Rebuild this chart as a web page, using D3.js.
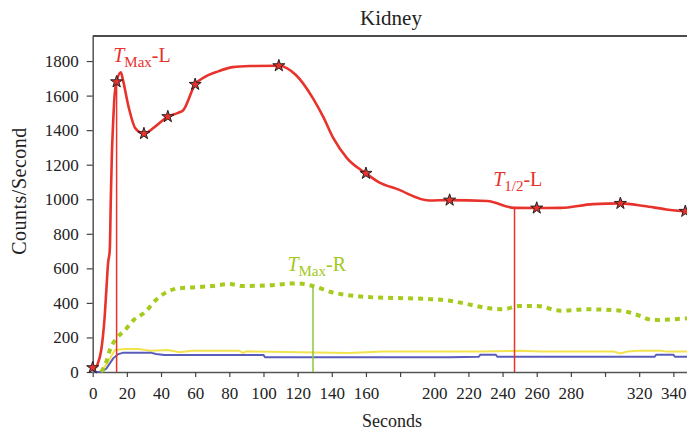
<!DOCTYPE html>
<html>
<head>
<meta charset="utf-8">
<script src="https://cdn.jsdelivr.net/npm/d3@7.9.0/dist/d3.min.js"></script>
<style>
  html, body { margin: 0; padding: 0; background: #fff; }
  svg { display: block; font-family: "Liberation Serif", "Times New Roman", serif; }
  svg text { font-family: "Liberation Serif", "Times New Roman", serif; }
</style>
</head>
<body>
<svg id="chart" width="687" height="435"></svg>
<script>
// left kidney (red)
const leftTime = [0, 2, 3, 5, 7, 8, 9, 10, 10.6, 11.2, 12, 12.8, 14, 16.5, 17.5, 21, 25, 30, 36, 44, 50, 53, 60, 66, 72, 82, 92, 109, 119, 129, 135, 141, 149, 160, 168, 178, 197, 209, 231, 247, 260, 274, 293, 309, 323, 336, 348];
const leftCounts = [25, 28, 50, 127, 320, 475, 630, 706, 1000, 1250, 1450, 1600, 1680, 1735, 1700, 1535, 1410, 1380, 1416, 1478, 1500, 1515, 1665, 1710, 1735, 1765, 1771, 1773, 1719, 1584, 1477, 1352, 1237, 1150, 1096, 1060, 993, 995, 990, 950, 949, 950, 972, 976, 961, 941, 930];
// star markers on the red curve
const starTime = [0, 14, 30, 44, 60, 109, 160, 209, 260, 309, 347];
const starCounts = [25, 1680, 1380, 1478, 1665, 1773, 1150, 995, 949, 976, 930];

// right kidney (green dotted)
const rightTime = [5, 8, 10, 14, 19, 24, 31, 37, 42, 50, 60, 70, 80, 88, 102, 119, 129, 140, 151, 164, 184, 200, 209, 219, 231, 240, 250, 260, 274, 290, 309, 319, 328, 348];
const rightCounts = [0, 60, 127, 195, 243, 301, 349, 417, 455, 484, 490, 498, 509, 498, 501, 513, 498, 462, 443, 432, 427, 421, 413, 394, 370, 363, 382, 382, 355, 363, 355, 330, 301, 311];

// background (yellow) and blue curves
const yellowTime = [0, 5, 9, 13, 19, 27, 34, 44, 51, 58, 86, 88, 90, 150, 170, 203, 226, 250, 263, 305, 309, 313, 320, 333, 336, 348];
const yellowCounts = [0, 0, 60, 127, 133, 133, 123, 127, 114, 123, 123, 110, 120, 110, 118, 118, 118, 123, 118, 118, 107, 118, 123, 123, 118, 118];
const blueTime = [0, 5, 8, 12, 15, 18, 34, 37, 42, 100, 101, 209, 226, 227, 236, 237, 329, 330, 340, 341, 348];
const blueCounts = [0, 0, 20, 79, 104, 112, 112, 104, 98, 98, 85, 86, 88, 100, 100, 88, 88, 100, 100, 88, 88];

const yTicks = [0, 200, 400, 600, 800, 1000, 1200, 1400, 1600, 1800];
const xTicks = [0, 20, 40, 60, 80, 100, 120, 140, 160, 180, 200, 220, 240, 260, 280, 300, 320, 340];
const xTickLabels = ["0", "20", "40", "60", "80", "100", "120", "140", "160", "", "200", "220", "240", "260", "280", "", "320", "340"];

// marker lines: time and top value
const markerLines = [
  { t: 14, v: 1680, color: "#e8322c" },
  { t: 247, v: 950, color: "#e8322c" },
  { t: 129, v: 498, color: "#8cc63e" }
];
// annotations: time/value at the start of the text baseline
const notes = [
  { t: 12, v: 1794, sub: "Max", tail: "-L", color: "#e8322c" },
  { t: 234.5, v: 1076, sub: "1/2", tail: "-L", color: "#e8322c" },
  { t: 114, v: 586, sub: "Max", tail: "-R", color: "#a3c91c" }
];

const svg = d3.select("#chart");
const plotLeft = 92.7, plotRight = 687, plotTop = 36, plotBottom = 372;

const x = d3.scaleLinear().domain([0, 348]).range([plotLeft, plotRight]);
const y = d3.scaleLinear().domain([0, 1945]).range([plotBottom, plotTop]);

const zip = (a, b) => a.map((d, i) => [d, b[i]]);

// top frame line
svg.append("line")
  .attr("x1", plotLeft).attr("x2", plotRight)
  .attr("y1", plotTop).attr("y2", plotTop)
  .attr("stroke", "#111").attr("stroke-width", 1.5);

// axes
const xAxis = svg.append("g")
  .attr("transform", `translate(0,${plotBottom})`)
  .call(d3.axisBottom(x).tickValues(xTicks)
    .tickFormat((d, i) => xTickLabels[i])
    .tickSize(5).tickPadding(10).tickSizeOuter(0));
const yAxis = svg.append("g")
  .attr("transform", `translate(${plotLeft},0)`)
  .call(d3.axisLeft(y).tickValues(yTicks).tickFormat(d3.format("d"))
    .tickSize(6).tickPadding(8).tickSizeOuter(0));

[xAxis, yAxis].forEach(g => {
  g.attr("font-family", null).attr("font-size", null);
  g.select(".domain").attr("stroke", "#555").attr("stroke-width", 1.5);
  g.selectAll(".tick line").attr("stroke", "#444").attr("stroke-width", 1.2);
  g.selectAll(".tick text").attr("fill", "#222")
    .style("font-family", '"Liberation Serif", serif')
    .style("font-size", "17px");
});

svg.append("defs").append("clipPath").attr("id", "plot")
  .append("rect").attr("x", plotLeft).attr("y", plotTop)
  .attr("width", plotRight - plotLeft).attr("height", plotBottom - plotTop + 8);

const plot = svg.append("g").attr("clip-path", "url(#plot)");

const line = d3.line().x(d => x(d[0])).y(d => y(d[1]));
const smooth = d3.line().x(d => x(d[0])).y(d => y(d[1])).curve(d3.curveMonotoneX);

plot.append("path").datum(zip(yellowTime, yellowCounts))
  .attr("d", line).attr("fill", "none")
  .attr("stroke", "#f2e34e").attr("stroke-width", 2);

plot.append("path").datum(zip(blueTime, blueCounts))
  .attr("d", line).attr("fill", "none")
  .attr("stroke", "#5a5cbc").attr("stroke-width", 2);

plot.append("path").datum(zip(rightTime, rightCounts))
  .attr("d", smooth).attr("fill", "none")
  .attr("stroke", "#a5cb1d").attr("stroke-width", 4)
  .attr("stroke-dasharray", "5,5");

plot.selectAll("line.marker")
  .data(markerLines)
  .join("line")
  .attr("class", "marker")
  .attr("x1", d => x(d.t)).attr("x2", d => x(d.t))
  .attr("y1", y(0)).attr("y2", d => y(d.v))
  .attr("stroke", d => d.color).attr("stroke-width", 1.5);

plot.append("path").datum(zip(leftTime, leftCounts))
  .attr("d", smooth).attr("fill", "none")
  .attr("stroke", "#e8322c").attr("stroke-width", 2.6);

// stars drawn unclipped so the one at zero shows
svg.selectAll("path.star")
  .data(zip(starTime, starCounts))
  .join("path")
  .attr("class", "star")
  .attr("transform", d => `translate(${x(d[0])},${y(d[1])})`)
  .attr("d", d3.symbol().type(d3.symbolStar).size(45))
  .attr("fill", "#e8322c").attr("stroke", "#222").attr("stroke-width", 1);

// annotations
const noteText = svg.selectAll("text.note")
  .data(notes)
  .join("text")
  .attr("class", "note")
  .attr("x", d => x(d.t)).attr("y", d => y(d.v))
  .attr("fill", d => d.color)
  .style("font-size", "20px");
noteText.append("tspan").style("font-style", "italic").text("T");
noteText.append("tspan").attr("dy", 5).style("font-size", "15px").text(d => d.sub);
noteText.append("tspan").attr("dy", -5).text(d => d.tail);

// titles
svg.append("text")
  .attr("x", 391).attr("y", 25)
  .attr("text-anchor", "middle")
  .attr("fill", "#222").style("font-size", "21px")
  .text("Kidney");

svg.append("text")
  .attr("x", 392).attr("y", 427)
  .attr("text-anchor", "middle")
  .attr("fill", "#222").style("font-size", "18px")
  .text("Seconds");

svg.append("text")
  .attr("transform", "translate(26,191) rotate(-90)")
  .attr("text-anchor", "middle")
  .attr("fill", "#222").style("font-size", "20px")
  .style("letter-spacing", "0.5px")
  .text("Counts/Second");
</script>
</body>
</html>
